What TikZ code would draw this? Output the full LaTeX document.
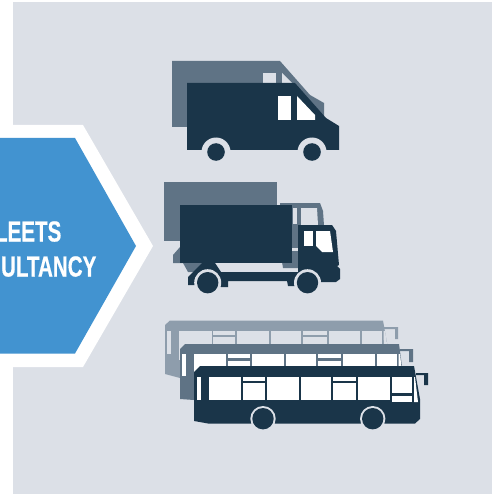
\documentclass[tikz,border=0pt]{standalone}
\usepackage{fontspec}
\setmainfont{Liberation Sans}
\newfontfamily\hexfont[FakeBold=0.6]{Liberation Sans Bold}
\definecolor{panel}{HTML}{DCE0E7}
\definecolor{navy}{HTML}{1A3549}
\definecolor{midb}{HTML}{5F7385}
\definecolor{lightb}{HTML}{8E9DAC}
\definecolor{hexb}{HTML}{4293D0}
\tikzset{
  hexlabel/.style={text=white,font=\hexfont\fontsize{29}{29}\selectfont,inner sep=0,anchor=base east,xscale=0.71,transform shape},
}
\begin{document}
\begin{tikzpicture}[x=1pt,y=-1pt]
\useasboundingbox (0,0) rectangle (492,497);
\fill[white] (0,0) rectangle (492,497);
\fill[panel] (13,2) rectangle (492,494);
% hexagon
\fill[white] (0,125) -- (83,125) -- (153,246) -- (83,367) -- (0,367) -- cycle;
\fill[hexb] (0,138) -- (75,138) -- (136,246) -- (75,353.5) -- (0,353.5) -- cycle;
\node[hexlabel] (l1) at (61.5,241.5) {LEETS};
\node[hexlabel] (l2) at (96.5,276.5) {ULTANCY};
% back van
\fill[midb] (172,61) -- (280,61) -- (310,95) -- (324,103) -- (324,118) -- (187,120) -- (187,127) -- (172,127) -- cycle;
\fill[panel] (263,73) rectangle (276,84);
\fill[panel] (282,73) -- (292,83) -- (292,84) -- (282,84) -- cycle;
% front van
\fill[navy] (187,83) -- (295,83) -- (326,118) -- (339,126) -- (339,150) -- (187,150) -- cycle;
\fill[white] (278,96) rectangle (291,120);
\fill[white] (297,96) -- (315,115) -- (315,120) -- (297,120) -- cycle;
\fill[panel] (216,152) circle (14.5);
\fill[panel] (312,152) circle (14.5);
\fill[navy] (216,152) circle (8.8);
\fill[navy] (312,152) circle (8.8);
% back truck
\fill[midb] (164,182) rectangle (277,241);
\fill[midb] (280,203) -- (320,203) -- (323,211) -- (325,240) -- (298,268) -- (283,268) -- (280,250) -- cycle;
\fill[panel] (293,208) rectangle (297,224);
\fill[panel] (301,208) -- (317,208) -- (318,225) -- (301,225) -- cycle;
\fill[panel] (292,248) rectangle (298,251);
\fill[midb] (180,247) -- (173,255) -- (173,263) -- (183,263) -- (188,272) -- (195,272) -- (204,262) -- cycle;
% front truck
\fill[navy] (180,205) rectangle (292,263);
\fill[navy] (188,277) -- (198,267) -- (202,263) -- (215,263) -- (221,272) -- (298,272) -- (298,225) -- (332,225) -- (336,231) -- (339,265) -- (337,266) -- (340,269) -- (340,279) -- (336,282) -- (316,282) -- (296,286) -- (288,286) -- (287,281) -- (228,281) -- (228,287) -- (221,287) -- (195,285) -- (188,285) -- cycle;
\fill[white] (304,231) rectangle (313,246);
\fill[white] (316,231) -- (330,231) -- (333,252) -- (322,252) -- (316,246) -- cycle;
\fill[panel] (207.7,282.7) circle (13.5);
\fill[panel] (307.5,282.7) circle (13.5);
\fill[navy] (207.7,282.7) circle (10.7);
\fill[navy] (307.5,282.7) circle (10.7);
% back bus
\fill[lightb] (165,325) -- (170,320.5) -- (383,320.5) -- (387,343) -- (387,370) -- (180,378) -- (165,374) -- cycle;
\fill[lightb] (384,327) -- (398,327) -- (398,339) -- (395,339) -- (395,329) -- (384,329) -- cycle;
\fill[panel] (167,331) rectangle (171,354);
\fill[panel] (179,331) rectangle (211.5,360);
\fill[panel] (213,331) rectangle (235,335);
\fill[panel] (213,337) rectangle (235,360);
\fill[panel] (237,331) rectangle (268.5,360);
\fill[panel] (270.5,331) rectangle (301,360);
\fill[panel] (302.5,331) rectangle (327,335);
\fill[panel] (302.5,337) rectangle (327,360);
\fill[panel] (328.5,331) rectangle (360,360);
\fill[panel] (362,331) rectangle (382,360);
\fill[panel] (383.5,331) -- (385,331) -- (388,350) -- (384,350) -- cycle;
% middle bus
\fill[midb] (180,349) -- (185,344) -- (399,344) -- (402,366) -- (402,380) -- (194,400) -- (180,399) -- cycle;
\fill[midb] (400,349) -- (413,349) -- (413,362) -- (409,362) -- (409,351) -- (400,351) -- cycle;
\fill[white] (182,353.5) rectangle (186,376);
\fill[white] (194,354) rectangle (226,372);
\fill[white] (228,354) rectangle (250,358);
\fill[white] (228,361) rectangle (250,372);
\fill[white] (252,354) rectangle (284,372);
\fill[white] (286,354) rectangle (316,372);
\fill[white] (318,354) rectangle (341,358);
\fill[white] (318,361) rectangle (341,372);
\fill[white] (343,354) rectangle (375,372);
\fill[white] (377,354) rectangle (397,372);
\fill[white] (398.5,354) -- (400,354) -- (402,372) -- (398.5,372) -- cycle;
% front bus
\fill[navy] (194,372) -- (200,366) -- (414,366) -- (420,399) -- (420,419) -- (415,423.5) -- (208,423.5) -- (194,421) -- cycle;
\fill[navy] (416,373) -- (428,373) -- (428,385) -- (424,385) -- (424,375) -- (416,375) -- cycle;
\fill[white] (197,377) rectangle (201,400);
\fill[white] (209,377) rectangle (241,400);
\fill[white] (243,377) rectangle (265,381);
\fill[white] (243,383) rectangle (265,400);
\fill[white] (267,377) rectangle (299,400);
\fill[white] (301,377) rectangle (331,400);
\fill[white] (333,377) rectangle (356,381);
\fill[white] (333,383) rectangle (356,400);
\fill[white] (358,377) rectangle (390,400);
\fill[white] (392,377) rectangle (412,393);
\fill[white] (392,396) rectangle (412,402);
\fill[white] (414,377) -- (415,377) -- (418,402) -- (414,402) -- cycle;
\fill[panel] (263,418.7) circle (12.7);
\fill[panel] (372.7,418.7) circle (12.7);
\fill[navy] (263,418.7) circle (10.7);
\fill[navy] (372.7,418.7) circle (10.7);
\end{tikzpicture}
\end{document}
